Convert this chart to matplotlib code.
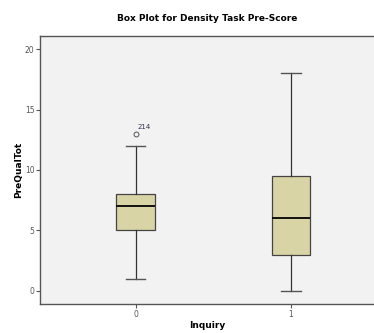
import numpy as np
import matplotlib.pyplot as plt

# データ
groups = ['0', '1']
positions = [0, 1]
whislo = [1, 0]
q1 = [5, 3]
med = [7, 6]
q3 = [8, 9.5]
whishi = [12, 18]
fliers = [[13], []]
flier_labels = [['214'], []]
yticks = [0, 5, 10, 15, 20]

stats = []
for i in range(len(groups)):
    stats.append(dict(label=groups[i], whislo=whislo[i], q1=q1[i], med=med[i],
                      q3=q3[i], whishi=whishi[i], fliers=fliers[i]))

fig = plt.figure(figsize=(3.74, 3.33), dpi=100, facecolor='w')
ax = fig.add_axes([40/374, 29/333, 334/374, 268/333])
ax.set_facecolor('#f2f2f2')

ax.bxp(stats, positions=positions, widths=0.25, patch_artist=True,
       boxprops=dict(facecolor='#d9d4a6', edgecolor='#444444', linewidth=0.9),
       medianprops=dict(color='#111111', linewidth=1.4),
       whiskerprops=dict(color='#333333', linewidth=0.9),
       capprops=dict(color='#555555', linewidth=1.0),
       capwidths=0.125,
       flierprops=dict(marker='o', markersize=3.5, markerfacecolor='none',
                       markeredgecolor='#555555', markeredgewidth=0.7))

for i in range(len(groups)):
    for v, lab in zip(fliers[i], flier_labels[i]):
        ax.annotate(lab, (positions[i], v), xytext=(1, 3), textcoords='offset points',
                    fontsize=5, color='#333355', ha='left', va='bottom')

ax.set_xlim(-0.616, 1.534)
ax.set_ylim(-1.08, 21.08)
ax.set_yticks(yticks)
ax.set_xticks(positions)
ax.set_xticklabels(groups)
ax.tick_params(axis='both', labelsize=5.5, colors='#555555', length=3, width=0.8, pad=1)
for s in ['left', 'bottom', 'top']:
    ax.spines[s].set_color('#555555')
    ax.spines[s].set_linewidth(1.0)
ax.spines['right'].set_visible(False)

ax.set_title('Box Plot for Density Task Pre-Score', fontsize=6.5, fontweight='bold', pad=11)
ax.set_ylabel('PreQualTot', fontsize=6.5, fontweight='bold', labelpad=1)
ax.set_xlabel('Inquiry', fontsize=6.5, fontweight='bold', labelpad=2)

plt.savefig('out.png', dpi=100)
